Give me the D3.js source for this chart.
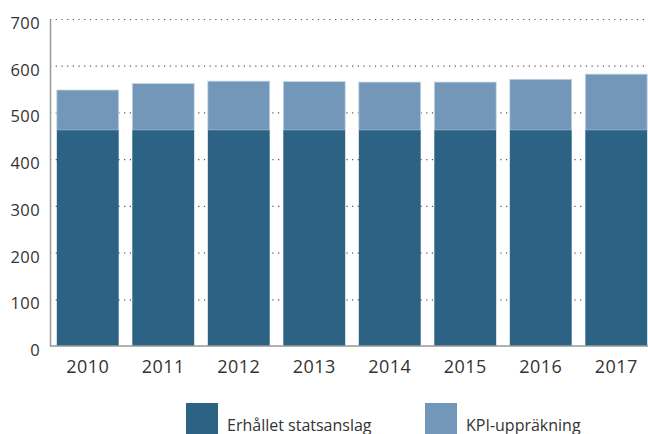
<!DOCTYPE html>
<html lang="sv">
<head>
  <meta charset="UTF-8">
  <title>Statsanslag och KPI-uppräkning 2010-2017</title>
  <script src="https://d3js.org/d3.v7.min.js"></script>
  <style>
    body { margin: 0; font-family: "Open Sans", sans-serif; background: #fff; }
    .tick text { fill: #333; font-family: "Open Sans", sans-serif; }
  </style>
</head>
<body>
<svg width="648" height="434"></svg>
<script>
  // Data (läst ur bilden)
  const years = ["2010", "2011", "2012", "2013", "2014", "2015", "2016", "2017"];
  const statsanslag = [462, 462, 462, 462, 462, 462, 462, 462];
  const kpi = [86, 100, 105, 104, 103, 103, 109, 120];
  const yTicks = [0, 100, 200, 300, 400, 500, 600, 700];
  const seriesNames = ["Erhållet statsanslag", "KPI-uppräkning"];

  const colors = ["#2c6385", "#7297b8"];

  const svg = d3.select("svg");
  const margin = {top: 19, right: 0, bottom: 88, left: 50};
  const width = +svg.attr("width") - margin.left - margin.right;
  const height = +svg.attr("height") - margin.top - margin.bottom;
  const g = svg.append("g").attr("transform", `translate(${margin.left},${margin.top})`);

  const x = d3.scaleBand().domain(years).range([0, 604]).paddingInner(0.18).paddingOuter(0.09);
  const y = d3.scaleLinear().domain([0, 700]).range([height, 0]);

  // Stödlinjer (prickade)
  g.selectAll("line.grid")
    .data(yTicks.filter(t => t > 0))
    .join("line")
      .attr("class", "grid")
      .attr("x1", 0).attr("x2", width)
      .attr("y1", d => y(d) + 0.5).attr("y2", d => y(d) + 0.5)
      .attr("stroke", "#555")
      .attr("stroke-width", 1.2)
      .attr("stroke-dasharray", "1.2,4.5");

  // Staplar
  const stackData = years.map((yr, i) => ({ year: yr, a: statsanslag[i], b: kpi[i] }));
  const groups = g.selectAll("g.year")
    .data(stackData)
    .join("g")
      .attr("class", "year")
      .attr("transform", d => `translate(${x(d.year)},0)`);

  groups.append("rect")
    .attr("x", 0)
    .attr("width", x.bandwidth())
    .attr("y", d => y(d.a + d.b))
    .attr("height", d => y(d.a) - y(d.a + d.b))
    .attr("fill", colors[1])
    .attr("stroke", "#c9d7e4")
    .attr("stroke-width", 0.8);

  groups.append("rect")
    .attr("x", 0)
    .attr("width", x.bandwidth())
    .attr("y", d => y(d.a))
    .attr("height", d => height - y(d.a))
    .attr("fill", colors[0]);

  // Axlar
  const yAxis = g.append("g")
    .call(d3.axisLeft(y).tickValues(yTicks).tickSize(0).tickPadding(10));
  yAxis.select(".domain").attr("stroke", "#999").attr("stroke-width", 1.5);
  yAxis.selectAll(".tick text")
    .style("font-size", "16.5px")
    .style("letter-spacing", "0.4px")
    .attr("dy", "9.5px");

  const xAxis = g.append("g")
    .attr("transform", `translate(0,${height})`)
    .call(d3.axisBottom(x).tickSize(0).tickPadding(14));
  xAxis.select(".domain").remove();
  xAxis.append("line")
    .attr("x1", 0).attr("x2", width)
    .attr("stroke", "#999").attr("stroke-width", 1.5);
  xAxis.selectAll(".tick text")
    .style("font-size", "18px")
    .style("letter-spacing", "0.4px");

  // Förklaring
  const legendX = [186, 425];
  seriesNames.forEach((name, i) => {
    const row = svg.append("g").attr("transform", `translate(${legendX[i]},403)`);
    row.append("rect")
      .attr("width", 32).attr("height", 32)
      .attr("fill", colors[i]);
    row.append("text")
      .attr("x", 41).attr("y", 27.5)
      .text(name)
      .style("font-size", "16px")
      .style("fill", "#333");
  });
</script>
</body>
</html>
